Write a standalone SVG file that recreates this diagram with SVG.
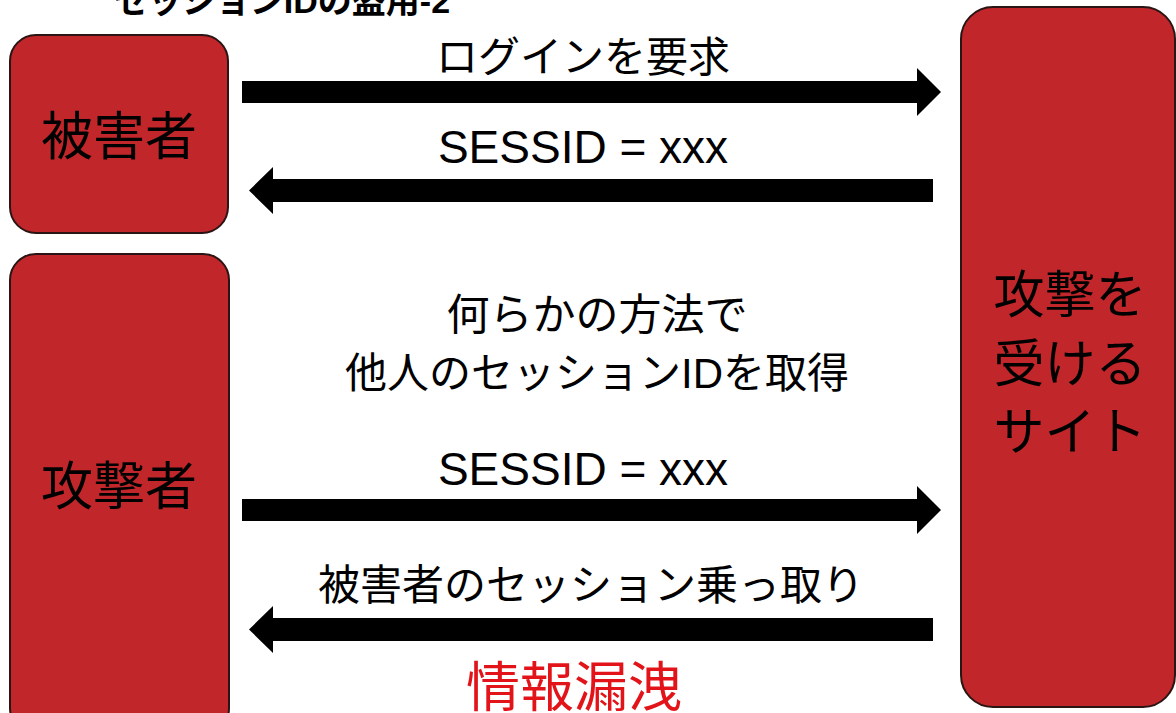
<svg xmlns="http://www.w3.org/2000/svg" width="1176" height="713" viewBox="0 0 1176 713">
<style>
.box{fill:#c1272a;stroke:#2a1414;stroke-width:2}
.t{font-family:"Liberation Sans","Noto Sans CJK JP",sans-serif;fill:#000;text-anchor:middle}
.arr{fill:#000}
</style>
<rect width="1176" height="713" fill="#fff"/>
<text class="t" x="282" y="13" font-size="34" font-weight="bold">セッションIDの盗用-2</text>
<g id="victim">
<rect class="box" x="10" y="35" width="218" height="198" rx="26"/>
<text class="t" x="119" y="155" font-size="52">被害者</text>
</g>
<g id="attacker">
<rect class="box" x="10" y="254" width="219" height="480" rx="26"/>
<text class="t" x="119" y="505" font-size="52">攻撃者</text>
</g>
<g id="site">
<rect class="box" x="961" y="7" width="214" height="700" rx="32"/>
<text class="t" x="1070" y="313" font-size="51">攻撃を</text>
<text class="t" x="1070" y="382" font-size="51">受ける</text>
<text class="t" x="1070" y="450" font-size="51">サイト</text>
</g>
<g id="connectors">
<path class="arr" d="M242 81H917V68L941 92L917 116V103H242Z"/>
<path class="arr" d="M933 179H273V167L249 190.5L273 214V202H933Z"/>
<path class="arr" d="M242 499H917V486L941 510L917 534V521H242Z"/>
<path class="arr" d="M933 618H273V606L249 629.5L273 653V641H933Z"/>
</g>
<g id="labels">
<text class="t" x="583" y="72" font-size="42">ログインを要求</text>
<text class="t" x="583" y="163" font-size="46">SESSID = xxx</text>
<text class="t" x="597" y="330" font-size="43">何らかの方法で</text>
<text class="t" x="597" y="388" font-size="42">他人のセッションIDを取得</text>
<text class="t" x="583" y="485" font-size="46">SESSID = xxx</text>
<text class="t" x="591" y="600" font-size="42">被害者のセッション乗っ取り</text>
<text class="t" x="574" y="707" font-size="54" style="fill:#e2141a">情報漏洩</text>
</g>
</svg>
